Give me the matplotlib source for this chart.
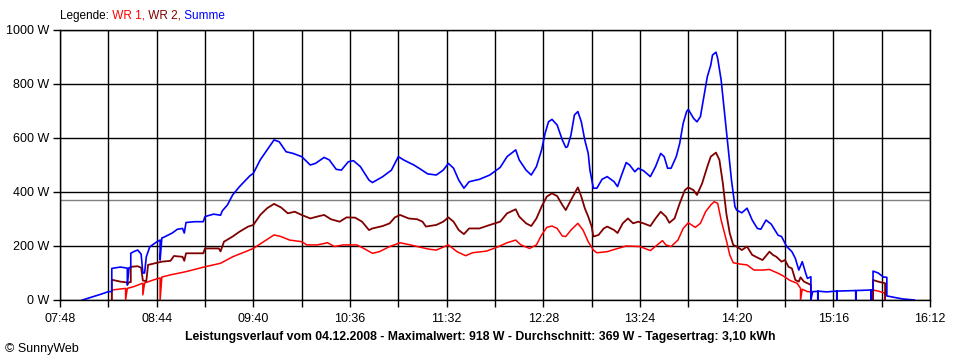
import numpy as np
import matplotlib.pyplot as plt

plt.rcParams['font.family'] = ['Liberation Sans', 'DejaVu Sans']

# Summe (blue)
sum_times = ["08:01", "08:07", "08:12", "08:16", "08:18", "08:18", "08:23", "08:27", "08:27", "08:28",
             "08:29", "08:29", "08:31", "08:33", "08:35", "08:36", "08:37", "08:38", "08:40", "08:44",
             "08:46", "08:46", "08:47", "08:48", "08:53", "08:56", "08:59", "09:00", "09:01", "09:06",
             "09:11", "09:12", "09:17", "09:21", "09:22", "09:25", "09:28", "09:32", "09:38", "09:40",
             "09:44", "09:48", "09:52", "09:55", "09:59", "10:03", "10:08", "10:13", "10:16", "10:21",
             "10:24", "10:28", "10:31", "10:35", "10:38", "10:42", "10:47", "10:49", "10:55", "11:00",
             "11:04", "11:07", "11:13", "11:17", "11:21", "11:26", "11:30", "11:33", "11:36", "11:39",
             "11:42", "11:45", "11:51", "11:57", "12:03", "12:07", "12:12", "12:14", "12:18", "12:21",
             "12:24", "12:27", "12:29", "12:31", "12:33", "12:36", "12:39", "12:41", "12:42", "12:44",
             "12:46", "12:48", "12:50", "12:52", "12:54", "12:55", "12:57", "12:59", "13:02", "13:05",
             "13:09", "13:11", "13:13", "13:16", "13:18", "13:21", "13:23", "13:26", "13:30", "13:33",
             "13:36", "13:38", "13:40", "13:42", "13:45", "13:47", "13:49", "13:51", "13:52", "13:55",
             "13:57", "13:59", "14:01", "14:03", "14:05", "14:06", "14:08", "14:09", "14:11", "14:13",
             "14:15", "14:17", "14:19", "14:20", "14:23", "14:26", "14:29", "14:32", "14:34", "14:37",
             "14:40", "14:44", "14:46", "14:49", "14:52", "14:54", "14:56", "14:58", "15:00", "15:01",
             "15:03", "15:03", "15:04", "15:07", "15:07", "15:07", "15:12", "15:18", "15:18", "15:18",
             "15:24", "15:29", "15:29", "15:29", "15:34", "15:38", "15:38", "15:38", "15:39", "15:39",
             "15:42", "15:45", "15:47", "15:47", "15:51", "15:56", "16:03"]
sum_watts = [0, 12, 22, 31, 31, 117, 122, 118, 55, 120,
             120, 173, 180, 185, 170, 100, 100, 160, 197, 215,
             222, 148, 230, 232, 248, 262, 265, 248, 287, 290,
             290, 309, 318, 314, 330, 352, 389, 420, 460, 469,
             519, 556, 593, 586, 549, 543, 531, 500, 506, 528,
             519, 484, 481, 512, 516, 494, 444, 435, 457, 481,
             531, 519, 500, 484, 467, 463, 481, 506, 488, 444,
             414, 438, 447, 463, 491, 531, 556, 519, 481, 463,
             494, 556, 617, 660, 669, 648, 593, 565, 568, 611,
             685, 698, 660, 593, 543, 481, 414, 414, 447, 457,
             438, 420, 457, 509, 500, 475, 488, 479, 457, 494,
             543, 531, 488, 488, 531, 580, 654, 698, 706, 673,
             660, 679, 753, 827, 870, 907, 918, 895, 815, 691,
             568, 444, 346, 333, 323, 340, 296, 265, 262, 296,
             281, 240, 235, 198, 179, 154, 111, 142, 99, 80,
             86, 0, 31, 32, 0, 33, 30, 33, 0, 33,
             34, 35, 0, 35, 36, 37, 0, 37, 37, 107,
             100, 85, 84, 15, 10, 4, 0]

# WR 2 (dark red)
wr2_times = ["08:18", "08:18", "08:23", "08:27", "08:27", "08:28", "08:29", "08:29", "08:33", "08:35",
             "08:36", "08:38", "08:39", "08:43", "08:47", "08:52", "08:54", "08:59", "09:00", "09:01",
             "09:11", "09:12", "09:20", "09:21", "09:23", "09:28", "09:32", "09:37", "09:40", "09:44",
             "09:48", "09:52", "09:56", "10:00", "10:04", "10:08", "10:13", "10:17", "10:21", "10:25",
             "10:30", "10:34", "10:39", "10:43", "10:47", "10:49", "10:55", "10:59", "11:02", "11:05",
             "11:10", "11:15", "11:18", "11:20", "11:26", "11:30", "11:33", "11:36", "11:39", "11:42",
             "11:45", "11:51", "11:57", "12:03", "12:07", "12:12", "12:14", "12:18", "12:21", "12:24",
             "12:27", "12:30", "12:33", "12:36", "12:39", "12:41", "12:44", "12:48", "12:50", "12:52",
             "12:54", "12:56", "12:57", "13:00", "13:03", "13:05", "13:09", "13:11", "13:14", "13:17",
             "13:20", "13:23", "13:26", "13:30", "13:33", "13:36", "13:39", "13:41", "13:44", "13:47",
             "13:50", "13:52", "13:55", "13:57", "14:00", "14:03", "14:05", "14:08", "14:10", "14:12",
             "14:14", "14:16", "14:18", "14:20", "14:23", "14:26", "14:29", "14:33", "14:35", "14:39",
             "14:41", "14:43", "14:46", "14:48", "14:50", "14:52", "14:54", "14:56", "14:57", "14:59",
             "15:01", "15:03", "15:03", "15:20", "15:39", "15:39", "15:42", "15:46", "15:46"]
wr2_watts = [0, 75, 68, 65, 58, 66, 66, 123, 125, 120,
             72, 70, 130, 136, 142, 145, 163, 160, 145, 173,
             173, 191, 191, 180, 216, 235, 253, 272, 278, 315,
             340, 356, 343, 321, 327, 315, 302, 309, 315, 299,
             290, 306, 305, 290, 259, 265, 274, 284, 306, 315,
             302, 299, 290, 272, 278, 290, 306, 290, 259, 244,
             265, 265, 278, 290, 321, 336, 309, 284, 274, 302,
             346, 383, 395, 385, 352, 333, 370, 417, 383, 340,
             309, 272, 235, 241, 265, 272, 259, 248, 284, 302,
             284, 290, 284, 274, 302, 327, 309, 286, 302, 358,
             407, 417, 407, 389, 432, 494, 531, 546, 519, 432,
             321, 247, 204, 198, 185, 198, 167, 154, 148, 179,
             167, 160, 142, 148, 123, 117, 74, 68, 84, 68,
             62, 56, 0, None, 0, 74, 68, 62, 0]

# WR 1 (red)
wr1_times = ["08:18", "08:18", "08:22", "08:26", "08:26", "08:27", "08:31", "08:35", "08:36", "08:36",
             "08:37", "08:42", "08:46", "08:46", "08:47", "08:52", "09:01", "09:12", "09:21", "09:28",
             "09:37", "09:40", "09:46", "09:52", "09:56", "10:01", "10:08", "10:11", "10:17", "10:23",
             "10:27", "10:32", "10:40", "10:44", "10:49", "10:53", "10:59", "11:05", "11:11", "11:17",
             "11:22", "11:26", "11:33", "11:38", "11:43", "11:47", "11:55", "12:01", "12:07", "12:12",
             "12:15", "12:20", "12:24", "12:27", "12:30", "12:33", "12:36", "12:39", "12:41", "12:44",
             "12:48", "12:51", "12:54", "12:57", "12:59", "13:05", "13:08", "13:16", "13:24", "13:30",
             "13:34", "13:37", "13:39", "13:42", "13:46", "13:49", "13:52", "13:56", "13:59", "14:02",
             "14:05", "14:07", "14:09", "14:11", "14:14", "14:16", "14:18", "14:22", "14:26", "14:30",
             "14:35", "14:39", "14:44", "14:47", "14:51", "14:55", "14:57", "14:57", "14:58", "14:59",
             "15:01", "15:03", "15:03", "15:20", "15:39", "15:39", "15:42", "15:46", "15:46"]
wr1_watts = [0, 37, 40, 43, 0, 43, 50, 60, 62, 19,
             63, 74, 82, 0, 85, 93, 105, 123, 136, 160,
             183, 191, 216, 241, 235, 222, 216, 204, 204, 212,
             198, 204, 204, 191, 173, 179, 198, 212, 204, 195,
             188, 185, 204, 179, 164, 175, 181, 195, 212, 222,
             204, 191, 204, 241, 269, 274, 265, 237, 235, 259,
             284, 259, 216, 185, 175, 179, 185, 200, 198, 183,
             204, 220, 204, 198, 222, 265, 286, 269, 284, 327,
             352, 364, 358, 296, 222, 167, 138, 133, 130, 111,
             111, 113, 99, 89, 72, 62, 43, 0, 40, 37,
             31, 30, 0, None, 0, 37, 33, 25, 0]

average_w = 369
title = ("Leistungsverlauf vom 04.12.2008 - Maximalwert: 918 W - "
         "Durchschnitt: 369 W - Tagesertrag: 3,10 kWh")
legend_parts = [("Legende:", "black"), (" WR 1,", "#ff0000"),
                (" WR 2,", "#800000"), (" Summe", "#0000ff")]


def to_min(s):
    h, m = s.split(":")
    return int(h) * 60 + int(m)


def series(times, watts):
    return (np.array([to_min(t) for t in times], dtype=float),
            np.array(watts, dtype=float))


fig = plt.figure(figsize=(9.6, 3.6), dpi=100)
ax = fig.add_axes([60 / 960, 60 / 360, 870 / 960, 270 / 360])

start, end = to_min("07:48"), to_min("16:12")
ax.set_xlim(start, end)
ax.set_ylim(0, 1000)

major = np.arange(start, end + 1, 56)
minor = np.arange(start + 28, end, 56)
ax.set_xticks(major)
ax.set_xticklabels([f"{m // 60:02d}:{m % 60:02d}" for m in major])
ax.set_xticks(minor, minor=True)
yt = np.arange(0, 1001, 200)
ax.set_yticks(yt)
ax.set_yticklabels([f"{v} W" for v in yt])

ax.grid(True, which="both", color="black", lw=1)
ax.set_axisbelow(True)
ax.tick_params(which="both", length=5, width=1, color="black", labelsize=9)
ax.tick_params(axis="x", pad=4)
ax.tick_params(axis="y", pad=3)
for sp in ax.spines.values():
    sp.set_linewidth(1)
    sp.set_color("black")

ax.axhline(average_w, color="#808080", lw=1, zorder=0.4)

x, y = series(wr1_times, wr1_watts)
ax.plot(x, y, color="#ff0000", lw=1.1)
x, y = series(wr2_times, wr2_watts)
ax.plot(x, y, color="#800000", lw=1.3)
x, y = series(sum_times, sum_watts)
ax.plot(x, y, color="#0000ff", lw=1.2)

# legend line at the top, coloured word by word
txt, col = legend_parts[0]
t = fig.text(60 / 960, 1 - 22 / 360, txt, color=col, fontsize=8.5, va="bottom")
for txt, col in legend_parts[1:]:
    t = ax.annotate(txt, xy=(1, 0), xycoords=t, color=col, fontsize=8.5,
                    va="bottom", ha="left", annotation_clip=False)

fig.text(480 / 960, 1 - 337 / 360, title, ha="center", va="center",
         fontsize=8.8, fontweight="bold")
fig.text(5 / 960, 1 - 349 / 360, "© SunnyWeb", fontsize=9, va="center")

fig.savefig("out.png", dpi=100)
